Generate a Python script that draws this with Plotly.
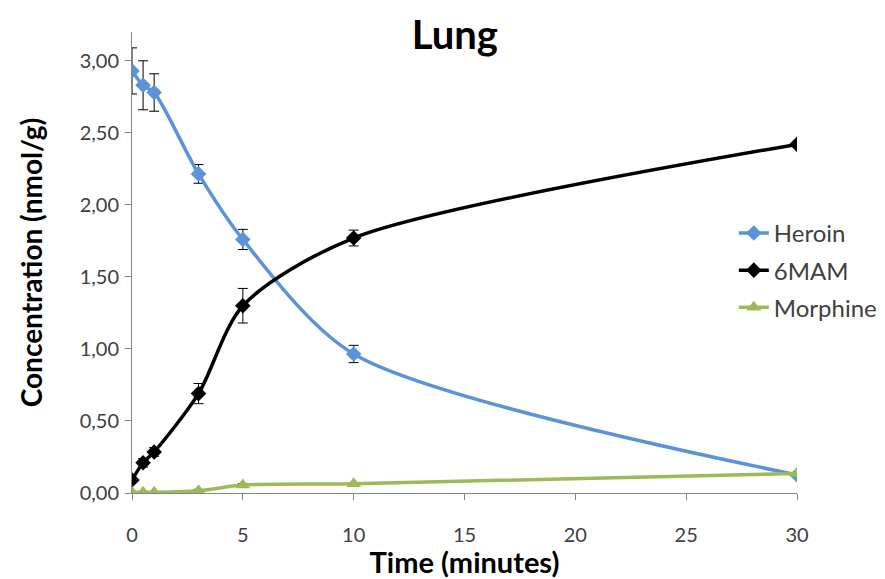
import plotly.graph_objects as go

time = [0, 0.5, 1, 3, 5, 10, 30]
heroin = [2.93, 2.83, 2.78, 2.215, 1.76, 0.965, 0.125]
heroin_err = [0.16, 0.17, 0.13, 0.065, 0.07, 0.06, 0.0]
mam = [0.09, 0.21, 0.285, 0.69, 1.30, 1.77, 2.42]
mam_err = [0.0, 0.03, 0.03, 0.07, 0.12, 0.055, 0.0]
morphine = [0.005, 0.005, 0.005, 0.015, 0.055, 0.065, 0.135]
morphine_err = [0.0, 0.0, 0.0, 0.01, 0.01, 0.0, 0.0]

FONT = "Lato"

fig = go.Figure()

def add(name, y, err, color, symbol, size):
    fig.add_trace(go.Scatter(
        x=time, y=y, name=name, mode="lines+markers", legendgroup=name,
        line=dict(color=color, width=3.5, shape="spline", smoothing=0.8),
        marker=dict(symbol=symbol, size=size, color=color),
        error_y=dict(type="data", array=err, visible=True, color="black",
                     thickness=1, width=5),
    ))

add("Heroin", heroin, heroin_err, "#5B93D8", "diamond", 12)
add("6MAM", mam, mam_err, "#000000", "diamond", 12)
add("Morphine", morphine, morphine_err, "#9BBB59", "triangle-up", 13)

fig.update_layout(
    width=885, height=579,
    margin=dict(l=132, r=88, t=32, b=86, autoexpand=False),
    paper_bgcolor="white", plot_bgcolor="white",
    separators=", ",
    font=dict(family=FONT, color="#404040"),
    title=dict(text="<b>Lung</b>", x=0.514, xanchor="center", y=0.94, yanchor="middle",
               font=dict(family=FONT, size=40, color="black")),
    legend=dict(x=0.905, y=0.612, xanchor="left", yanchor="top",
                font=dict(family=FONT, size=24, color="#404040"),
                bgcolor="rgba(0,0,0,0)", itemwidth=30, tracegroupgap=3),
    xaxis=dict(range=[0, 30], tickvals=[0, 5, 10, 15, 20, 25, 30],
               showline=True, linecolor="#868686", linewidth=1,
               ticks="outside", ticklen=6, tickcolor="#868686",
               showgrid=False, zeroline=False, ticklabelstandoff=18, automargin=False,
               tickfont=dict(family=FONT, size=20, color="#404040"),
               title=dict(text="<b>Time (minutes)</b>", standoff=4,
                          font=dict(family=FONT, size=29, color="black"))),
    yaxis=dict(range=[0, 3.2], tickvals=[0, 0.5, 1, 1.5, 2, 2.5, 3], tickformat=".2f",
               showline=True, linecolor="#868686", linewidth=1,
               ticks="outside", ticklen=6, tickcolor="#868686",
               showgrid=False, zeroline=False, ticklabelstandoff=2, automargin=False,
               tickfont=dict(family=FONT, size=20, color="#404040"),
               title=dict(text="<b>Concentration (nmol/g)</b>", standoff=28,
                          font=dict(family=FONT, size=28, color="black"))),
)

fig.write_html("out.html")
